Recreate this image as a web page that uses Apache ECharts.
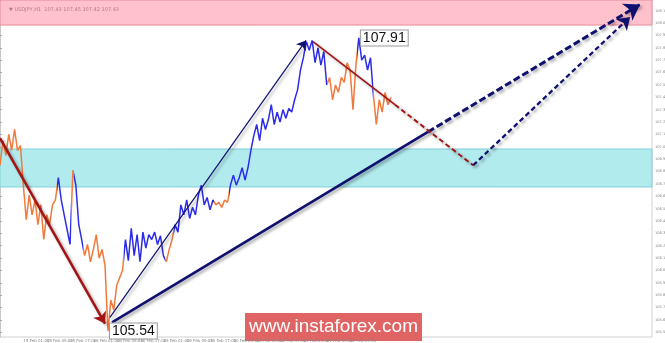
<!DOCTYPE html>
<html><head><meta charset="utf-8">
<script src="https://cdn.jsdelivr.net/npm/echarts@6/dist/echarts.min.js"></script>
<style>html,body{margin:0;padding:0;background:#fff}#c{width:665px;height:343px}</style>
</head><body><div id="c"></div>
<script>
// H1 bars, closing prices (USDJPY)
const price = [
106.88,107.08,106.96,107.13,107.00,107.17,107.00,107.04,106.72,106.44,
106.64,106.48,106.60,106.40,106.56,106.28,106.48,106.40,106.56,106.60,
106.78,106.60,106.48,106.36,106.24,106.84,106.72,106.40,106.28,106.15,
106.24,106.10,106.20,106.32,106.13,106.20,106.07,105.54,105.79,105.71,
105.91,105.97,106.03,106.28,106.11,106.37,106.15,106.32,106.10,106.34,
106.21,106.32,106.28,106.34,106.24,106.31,106.15,106.10,106.20,106.28,
106.40,106.34,106.56,106.48,106.60,106.45,106.54,106.48,106.64,106.72,
106.56,106.62,106.52,106.60,106.56,106.58,106.54,106.60,106.58,106.72,
106.80,106.72,106.78,106.86,106.76,106.86,107.00,107.12,107.21,107.08,
107.26,107.17,107.25,107.37,107.21,107.31,107.23,107.33,107.26,107.34,
107.31,107.41,107.49,107.65,107.75,107.88,107.81,107.89,107.71,107.83,
107.69,107.80,107.53,107.59,107.41,107.53,107.47,107.59,107.55,107.71,
107.65,107.33,107.69,107.91,107.73,107.77,107.65,107.75,107.45,107.21,
107.41,107.31,107.47,107.37,107.43
];
const xLabels = ['14 Feb 2018','15 Feb 01:00','15 Feb 09:00','15 Feb 17:00','16 Feb 01:00','16 Feb 09:00',
  '16 Feb 17:00','19 Feb 01:00','19 Feb 09:00','19 Feb 17:00','20 Feb 01:00','20 Feb 09:00','20 Feb 17:00',
  '21 Feb 01:00','21 Feb 09:00','21 Feb 17:00','22 Feb 01:00'];
const yTicks = [105.53,105.63,105.73,105.83,105.93,106.03,106.13,106.23,106.33,106.43,106.53,106.63,106.73,
  106.83,106.93,107.03,107.13,107.23,107.33,107.43,107.53,107.63,107.73,107.83,107.93,108.03,108.13];
// zones
const resistZone = [108.014, 108.2165];
const supportZone = [106.705, 107.012];
// wave annotations [barIndex, price]
const waveDown = [[0, 107.10], [36, 105.60]];
const waveUpThin = [[37.7, 105.65], [104.9, 107.89]];
const waveUpThick = [[38.4, 105.61], [146.7, 107.15]];
const waveUpThickFwd = [[146.7, 107.15], [219.4, 108.18]];
const corrSolid = [[107.3, 107.88], [135.4, 107.37]];
const corrDashed = [[135.4, 107.37], [162.2, 106.88]];
const fwdThin = [[162.2, 106.88], [216, 108.08]];
const highPt = [123, 107.91];
const lowPt = [37, 105.54];
const lastPrice = 107.43;

const ORANGE = '#f2793a', BLUE = '#2b2bea', NAVY = '#10106e', DRED = '#a31515';
const shadow = {shadowColor:'rgba(0,0,0,0.35)', shadowBlur:3, shadowOffsetX:2, shadowOffsetY:2};
function arrow(coords, color, width, type, arrowEnd, size) {
  return {type:'lines', coordinateSystem:'cartesian2d', silent:true, z:5,
    symbol: arrowEnd ? ['none','arrow'] : ['none','none'], symbolSize: size || 10,
    lineStyle: Object.assign({color, width, type, opacity:1}, shadow),
    data:[{coords}]};
}
const lblStyle = {show:true, position:'right', distance:2, formatter: p => p.value.toFixed(2),
  color:'#111', fontSize:14, fontFamily:'Liberation Sans, Arial', backgroundColor:'#fff',
  borderColor:'#999', borderWidth:1, padding:[1,2,0,2]};

const chart = echarts.init(document.getElementById('c'));
chart.setOption({
  animation:false,
  title:{text:'▼ USDJPY,H1  107.43 107.45 107.42 107.43', left:4, top:2,
    textStyle:{fontSize:5, color:'#b07a88', fontWeight:'normal', fontFamily:'DejaVu Sans'}},
  grid:{left:0, right:13, top:0, bottom:6, show:true, borderColor:'#d0d0d0', borderWidth:1,
    containLabel:false, outerBoundsMode:'none'},
  xAxis:{type:'value', min:0, max:223.5, splitLine:{show:false},
    axisLine:{show:false}, axisTick:{show:false},
    axisLabel:{customValues: xLabels.map((_, i) => i * 8), formatter: v => xLabels[Math.round(v / 8)] || '',
      fontSize:4, color:'#888', align:'left', margin:2, fontFamily:'DejaVu Sans'}},
  yAxis:{type:'value', position:'right', min:105.492, max:108.2165, splitLine:{show:false},
    axisLine:{show:true, lineStyle:{color:'#c8c8c8'}},
    axisTick:{show:true, customValues:yTicks, length:2, lineStyle:{color:'#aaa'}},
    axisLabel:{customValues:yTicks, formatter: v => v.toFixed(2), fontSize:3.6, color:'#888', margin:3,
      fontFamily:'DejaVu Sans'}},
  visualMap:{show:false, type:'piecewise', seriesIndex:0, dimension:0, pieces:[
    {lt:19.5, color:ORANGE},{gte:19.5, lt:24.5, color:BLUE},{gte:24.5, lt:25.5, color:ORANGE},
    {gte:25.5, lt:28.5, color:BLUE},{gte:28.5, lt:42.5, color:ORANGE},{gte:42.5, lt:56.5, color:BLUE},
    {gte:56.5, lt:59.5, color:ORANGE},{gte:59.5, lt:73.5, color:BLUE},{gte:73.5, lt:78.5, color:ORANGE},
    {gte:78.5, lt:112, color:BLUE},{gte:112, lt:122.5, color:ORANGE},{gte:122.5, lt:128, color:BLUE},
    {gte:128, color:ORANGE}]},
  series:[
    {type:'line', data: price.map((v, i) => [i, v]), showSymbol:false, z:3,
      lineStyle:{width:1.5},
      markArea:{silent:true, z:1, data:[
        [{yAxis:resistZone[0], itemStyle:{color:'#ffc2cc', borderColor:'#e88a98', borderWidth:1}}, {yAxis:resistZone[1]}],
        [{yAxis:supportZone[0], itemStyle:{color:'#b2ebee', borderColor:'#7fcfd6', borderWidth:1}}, {yAxis:supportZone[1]}]]},
      markPoint:{symbol:'circle', symbolSize:0.1, z:10, label:lblStyle, data:[
        {coord:highPt, value:highPt[1]}, {coord:lowPt, value:lowPt[1]}]},
      markLine:{silent:true, symbol:['none','none'], lineStyle:{opacity:0},
        label:{show:true, position:'end', distance:1, formatter: p => p.value.toFixed(2), fontSize:3.6,
          color:'#fff', backgroundColor:'#8a8a8a', padding:[1,1], fontFamily:'DejaVu Sans'},
        data:[{yAxis:lastPrice}]}
    },
    arrow(waveDown, DRED, 2.5, 'solid', true, 11),
    arrow(waveUpThin, NAVY, 1.2, 'solid', true, 9),
    arrow(waveUpThick, NAVY, 2.6, 'solid', false),
    arrow(waveUpThickFwd, NAVY, 3, [7,3], true, 15),
    arrow(corrSolid, DRED, 1.6, 'solid', false),
    arrow(corrDashed, DRED, 2, [5,3], false),
    arrow(fwdThin, NAVY, 2.2, [5,3], true, 12)
  ],
  graphic:[{type:'group', left:245, top:313, z:100, children:[
    {type:'rect', shape:{x:0, y:0, width:177, height:28}, style:{fill:'#e06464'}},
    {type:'text', x:88.5, y:14, style:{text:'www.instaforex.com', fill:'#fff', font:'19px Liberation Sans, Arial',
      align:'center', verticalAlign:'middle'}}]}]
});
</script></body></html>
